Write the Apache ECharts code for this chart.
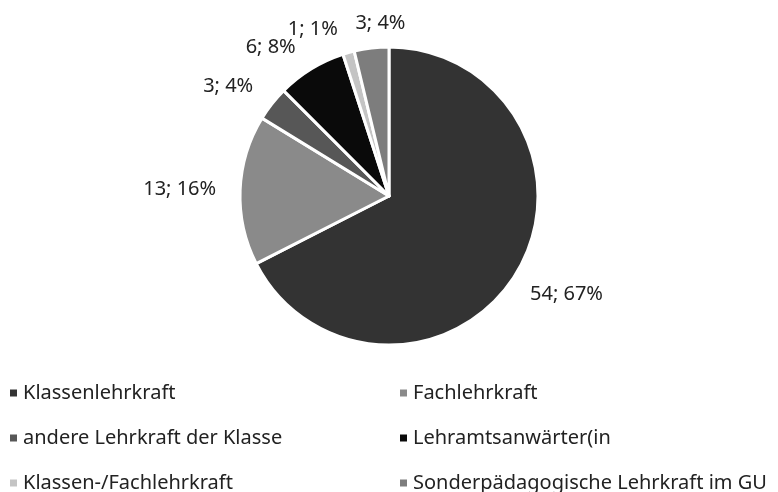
<!DOCTYPE html>
<html>
<head>
<meta charset="utf-8">
<script src="https://cdn.jsdelivr.net/npm/echarts@6/dist/echarts.min.js"></script>
<style>
  html, body { margin: 0; padding: 0; background: #fff; }
  #main { width: 778px; height: 492px; }
</style>
</head>
<body>
<div id="main"></div>
<script>
// Kategorien, Werte und die Prozentangaben wie im Bild
var categories = ['Klassenlehrkraft', 'Fachlehrkraft', 'andere Lehrkraft der Klasse',
  'Lehramtsanwärter(in', 'Klassen-/Fachlehrkraft', 'Sonderpädagogische Lehrkraft im GU'];
var values = [54, 13, 3, 6, 1, 3];
var percentLabels = [67, 16, 4, 8, 1, 4];
var colors = ['#333333', '#8a8a8a', '#575757', '#0a0a0a', '#c4c4c4', '#7d7d7d'];

var chart = echarts.init(document.getElementById('main'));

var cx = 389, cy = 196, r = 149;
var labelGap = 18;
// kleine Verschiebungen der Beschriftungen (wie in der Vorlage verschoben)
var labelShift = [[4, 6], [-6, 0], [-10, 0], [-18, 2], [-24, 4], [14, 3]];

var total = 0;
for (let i = 0; i < values.length; i++) total += values[i];

var pieData = [];
for (let i = 0; i < categories.length; i++) {
  pieData.push({ name: categories[i], value: values[i], itemStyle: { color: colors[i] } });
}

// Beschriftung ausserhalb, wie "Ende außerhalb"
function placeLabel(params) {
  var i = params.dataIndex;
  var before = 0;
  for (let k = 0; k < i; k++) before += values[k];
  var ang = (before + values[i] / 2) / total * 2 * Math.PI;
  var dx = Math.sin(ang), dy = -Math.cos(ang);
  var w = params.labelRect.width, h = params.labelRect.height;
  return {
    x: cx + dx * (r + labelGap) + dx * w / 2 + labelShift[i][0],
    y: cy + dy * (r + labelGap) + dy * h / 2 + labelShift[i][1],
    align: 'center',
    verticalAlign: 'middle',
    hideOverlap: false
  };
}

var legendText = { fontFamily: 'Noto Sans', fontSize: 20, color: '#222' };

var option = {
  backgroundColor: '#fff',
  animation: false,
  legend: [
    {
      orient: 'vertical',
      left: 3,
      top: 378,
      height: 120,
      icon: 'rect',
      itemWidth: 9,
      itemHeight: 9,
      itemGap: 25,
      textStyle: legendText,
      data: [categories[0], categories[2], categories[4]]
    },
    {
      orient: 'vertical',
      left: 393,
      top: 378,
      height: 120,
      icon: 'rect',
      itemWidth: 9,
      itemHeight: 9,
      itemGap: 25,
      textStyle: legendText,
      data: [categories[1], categories[3], categories[5]]
    }
  ],
  series: [
    {
      type: 'pie',
      center: [cx, cy],
      radius: r,
      startAngle: 90,
      clockwise: true,
      avoidLabelOverlap: false,
      itemStyle: { borderColor: '#fff', borderWidth: 3 },
      label: {
        show: true,
        position: 'outside',
        fontFamily: 'Noto Sans',
        fontSize: 20,
        color: '#222',
        formatter: function (p) {
          return p.value + '; ' + percentLabels[p.dataIndex] + '%';
        }
      },
      labelLine: { show: false },
      labelLayout: placeLabel,
      data: pieData
    }
  ]
};
chart.setOption(option);
</script>
</body>
</html>
